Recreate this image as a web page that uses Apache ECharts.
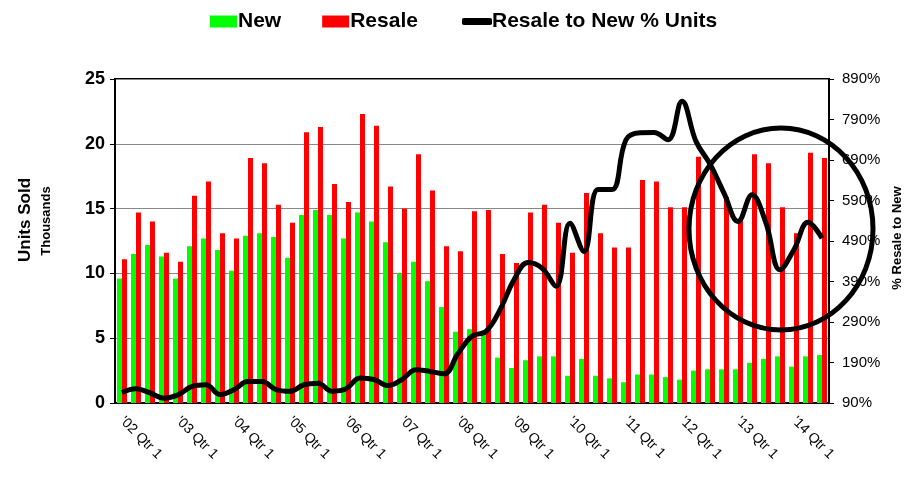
<!DOCTYPE html>
<html>
<head>
<meta charset="utf-8">
<script src="https://cdn.jsdelivr.net/npm/echarts@6/dist/echarts.min.js"></script>
<style>
html,body{margin:0;padding:0;background:#fff;}
#chart{width:915px;height:486px;}
</style>
</head>
<body>
<div id="chart"></div>
<script>
var categories = [
"'02 Qtr 1","'02 Qtr 2","'02 Qtr 3","'02 Qtr 4",
"'03 Qtr 1","'03 Qtr 2","'03 Qtr 3","'03 Qtr 4",
"'04 Qtr 1","'04 Qtr 2","'04 Qtr 3","'04 Qtr 4",
"'05 Qtr 1","'05 Qtr 2","'05 Qtr 3","'05 Qtr 4",
"'06 Qtr 1","'06 Qtr 2","'06 Qtr 3","'06 Qtr 4",
"'07 Qtr 1","'07 Qtr 2","'07 Qtr 3","'07 Qtr 4",
"'08 Qtr 1","'08 Qtr 2","'08 Qtr 3","'08 Qtr 4",
"'09 Qtr 1","'09 Qtr 2","'09 Qtr 3","'09 Qtr 4",
"'10 Qtr 1","'10 Qtr 2","'10 Qtr 3","'10 Qtr 4",
"'11 Qtr 1","'11 Qtr 2","'11 Qtr 3","'11 Qtr 4",
"'12 Qtr 1","'12 Qtr 2","'12 Qtr 3","'12 Qtr 4",
"'13 Qtr 1","'13 Qtr 2","'13 Qtr 3","'13 Qtr 4",
"'14 Qtr 1","'14 Qtr 2","'14 Qtr 3"
];
var newUnits = [9.6,11.5,12.2,11.3,9.6,12.1,12.7,11.8,10.2,12.9,13.1,12.8,11.2,
14.5,14.9,14.5,12.7,14.7,14.0,12.4,10.0,10.9,9.4,7.4,5.5,
5.7,5.6,3.5,2.7,3.3,3.6,3.6,2.1,3.4,2.1,1.9,1.6,
2.2,2.2,2.0,1.8,2.5,2.6,2.6,2.6,3.1,3.4,3.6,2.8,3.6,3.7];
var resaleUnits = [11.1,14.7,14.0,11.6,10.9,16.0,17.1,13.1,12.7,18.9,18.5,15.3,13.9,
20.9,21.3,16.9,15.5,22.3,21.4,16.7,15.0,19.2,16.4,12.1,11.7,
14.8,14.9,11.5,10.8,14.7,15.3,13.9,11.6,16.2,13.1,12.0,12.0,
17.2,17.1,15.1,15.1,19.0,18.0,15.9,14.2,19.2,18.5,15.1,13.1,19.3,18.9];
var resaleToNewPct = [116,125,115,102,110,131,135,111,123,143,143,123,119,
135,139,119,125,152,148,133,148,172,168,162,212,
255,267,320,394,437,423,378,534,464,617,617,740,
757,758,740,835,736,680,608,538,604,534,419,469,536,497];

var FONT = "'Liberation Sans', Arial, sans-serif";
var chart = echarts.init(document.getElementById('chart'), null, {renderer:'canvas'});
chart.setOption({
  animation:false,
  backgroundColor:'#fff',
  textStyle:{fontFamily:FONT},
  grid:{left:115,right:86,top:79,bottom:83,show:true,borderColor:'#000',borderWidth:2,backgroundColor:'#fff'},
  legend:[{
    data:['New','Resale'],
    left:210, top:11, padding:0,
    itemWidth:27, itemHeight:12, itemGap:41,
    icon:'rect',
    textStyle:{fontFamily:FONT,fontWeight:'bold',fontSize:21,color:'#000',padding:[0,0,0,-4]}
  },{
    data:['Resale to New % Units'],
    left:462, top:11, padding:0,
    itemWidth:30, itemHeight:7,
    icon:'roundRect',
    textStyle:{fontFamily:FONT,fontWeight:'bold',fontSize:21,color:'#000',padding:[0,0,0,-5]}
  }],
  xAxis:{
    type:'category',
    data:categories,
    boundaryGap:true,
    axisLine:{lineStyle:{color:'#000',width:2}},
    axisTick:{interval:3,length:5,lineStyle:{color:'#999'}},
    axisLabel:{interval:3,rotate:-45,fontSize:14,color:'#000',margin:16,fontFamily:FONT},
    splitLine:{show:false}
  },
  yAxis:[{
    type:'value',min:0,max:25,interval:5,
    axisLine:{show:true,lineStyle:{color:'#000',width:2}},
    axisTick:{show:true,length:5,lineStyle:{color:'#000'}},
    axisLabel:{fontSize:18,fontWeight:'bold',color:'#000',margin:10,fontFamily:FONT},
    splitLine:{show:true,lineStyle:{color:'#888',width:1}}
  },{
    type:'value',min:90,max:890,interval:100,position:'right',
    axisLine:{show:true,lineStyle:{color:'#000',width:2}},
    axisTick:{show:true,length:5,lineStyle:{color:'#000'}},
    axisLabel:{fontSize:15,color:'#000',margin:13,formatter:'{value}%',fontFamily:FONT},
    splitLine:{show:false}
  }],
  series:[{
    name:'New',type:'bar',data:newUnits,
    itemStyle:{color:'#00ff00'},barWidth:5,barGap:'0%',barCategoryGap:'30%'
  },{
    name:'Resale',type:'bar',data:resaleUnits,
    itemStyle:{color:'#ff0000'},barWidth:5
  },{
    name:'Resale to New % Units',type:'line',yAxisIndex:1,data:resaleToNewPct,
    smooth:0.4,showSymbol:false,symbol:'none',
    lineStyle:{color:'#000',width:5},itemStyle:{color:'#000'},z:5
  }],
  graphic:[
    {type:'text',x:25,y:220,rotation:Math.PI/2,
     style:{text:'Units Sold',font:"bold 17px "+FONT,fill:'#000',align:'center',verticalAlign:'middle'}},
    {type:'text',x:46,y:221,rotation:Math.PI/2,
     style:{text:'Thousands',font:"bold 13px "+FONT,fill:'#000',align:'center',verticalAlign:'middle'}},
    {type:'text',x:897,y:238,rotation:Math.PI/2,
     style:{text:'% Resale to New',font:"bold 13px "+FONT,fill:'#000',align:'center',verticalAlign:'middle'}},
    {type:'ellipse',shape:{cx:781,cy:229,rx:92,ry:101},z:100,
     style:{fill:'none',stroke:'#000',lineWidth:5}}
  ]
});
</script>
</body>
</html>
